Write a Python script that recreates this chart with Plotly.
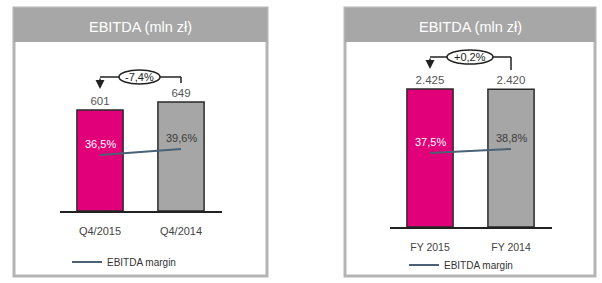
import plotly.graph_objects as go

# ---------------- data ----------------
cats_q = ["Q4/2015", "Q4/2014"]
ebitda_q = [601, 649]
margin_q = [36.5, 39.6]

cats_fy = ["FY 2015", "FY 2014"]
ebitda_fy = [2425, 2420]
margin_fy = [37.5, 38.8]

title_text = "EBITDA (mln zł)"
legend_name = "EBITDA margin"

# ---------------- styling ----------------
W, H = 602, 283
PINK = "#e2007a"
GREY = "#a6a6a6"
HEADER = "#a7a7a7"
FRAME = "#b4b4b4"
MARGIN_LINE = "#4a6176"
FONT = "Liberation Sans, Arial, sans-serif"


def fx(x):
    return x / W


def fy(y):
    return 1 - y / H


def fmt_val(v):
    return f"{v:,}".replace(",", ".")


def fmt_pct(v, sign=False):
    s = f"{v:+.1f}%" if sign else f"{v:.1f}%"
    return s.replace(".", ",")


fig = go.Figure()

panels = [
    dict(cats=cats_q, vals=ebitda_q, marg=margin_q, xa="x", ya="y", ym="y3", leg="legend",
         frame=(14, 267), xdom=(59.5, 221.5), base=211, bartop=110, m_px=(155, 149),
         tick_size=11, leg_x=67, leg_y=262, br_y=77, br_tip=89, br_r=83,
         ell=(119, 160), lbl_y=77),
    dict(cats=cats_fy, vals=ebitda_fy, marg=margin_fy, xa="x2", ya="y2", ym="y4", leg="legend2",
         frame=(345, 595), xdom=(389.5, 551.5), base=227, bartop=89, m_px=(153, 149),
         tick_size=10.5, leg_x=404, leg_y=265, br_y=57, br_tip=69, br_r=70,
         ell=(447, 493), lbl_y=57),
]

shapes = []
annotations = []
layout_axes = {}
TOP = 42
LBL_COLORS = ["#ffffff", "#3a3a3a"]

for i, p in enumerate(panels):
    # bars
    fig.add_trace(go.Bar(
        x=p["cats"], y=p["vals"], xaxis=p["xa"], yaxis=p["ya"],
        marker=dict(color=[PINK, GREY], line=dict(color="#2a2a2a", width=1.5)),
        text=[fmt_val(v) for v in p["vals"]], textposition="outside",
        textfont=dict(size=11.5, color="#555555", family=FONT),
        cliponaxis=False, showlegend=False, hoverinfo="skip",
    ))
    # margin line
    fig.add_trace(go.Scatter(
        x=p["cats"], y=p["marg"], xaxis=p["xa"], yaxis=p["ym"],
        mode="lines", name=legend_name, legend=p["leg"],
        line=dict(color=MARGIN_LINE, width=2),
        cliponaxis=False, hoverinfo="skip",
    ))
    for j, (c, m) in enumerate(zip(p["cats"], p["marg"])):
        annotations.append(dict(text=fmt_pct(m), xref=p["xa"], yref=p["ym"], x=c, y=m,
                                showarrow=False, xanchor="center", yanchor="middle",
                                yshift=11,
                                font=dict(size=11, color=LBL_COLORS[j], family=FONT)))

    # axes geometry
    base, bartop = p["base"], p["bartop"]
    per_px = max(p["vals"][0], 1) / (base - bartop)
    rng_max = per_px * (base - TOP)
    m0, m1 = p["marg"]
    y0px, y1px = p["m_px"]
    k = (m1 - m0) / (y0px - y1px)
    r0 = m0 - (base - y0px) * k
    r1 = r0 + (base - TOP) * k

    xkey = "xaxis" if i == 0 else "xaxis2"
    ykey = "yaxis" if i == 0 else "yaxis2"
    ymkey = "yaxis3" if i == 0 else "yaxis4"
    layout_axes[xkey] = dict(
        domain=[fx(p["xdom"][0]), fx(p["xdom"][1])], anchor=p["ya"],
        type="category", range=[-0.5, 1.5], showline=True, linecolor="#222222",
        linewidth=2, ticks="", showgrid=False, zeroline=False,
        tickfont=dict(size=p["tick_size"], color="#444444", family=FONT),
        ticklabelstandoff=9, fixedrange=True,
    )
    layout_axes[ykey] = dict(
        domain=[fy(base), fy(TOP)], anchor=p["xa"], range=[0, rng_max],
        visible=False, fixedrange=True,
    )
    layout_axes[ymkey] = dict(
        overlaying=p["ya"], anchor=p["xa"], range=[r0, r1], visible=False, fixedrange=True,
    )

    # frame + header
    fl, fr = p["frame"]
    shapes.append(dict(type="rect", xref="paper", yref="paper", layer="below",
                       x0=fx(fl), x1=fx(fr), y0=fy(276), y1=fy(8),
                       line=dict(color=FRAME, width=3), fillcolor="white"))
    shapes.append(dict(type="rect", xref="paper", yref="paper", layer="below",
                       x0=fx(fl), x1=fx(fr), y0=fy(42), y1=fy(8),
                       line=dict(width=0), fillcolor=HEADER))
    annotations.append(dict(text=title_text, xref="paper", yref="paper",
                            x=fx((fl + fr) / 2), y=fy(26.5), showarrow=False,
                            xanchor="center", yanchor="middle",
                            font=dict(size=14.5, color="white", family=FONT)))

    # change bracket
    xr = p["xa"]
    by = fy(p["br_y"])
    line_style = dict(color="#222222", width=1.5)
    shapes.append(dict(type="line", xref=xr, yref="paper", x0=0, x1=1, y0=by, y1=by,
                       line=line_style))
    shapes.append(dict(type="line", xref=xr, yref="paper", x0=1, x1=1, y0=by,
                       y1=fy(p["br_r"]), line=line_style))
    el, er = p["ell"]
    shapes.append(dict(type="circle", xref="paper", yref="paper",
                       x0=fx(el), x1=fx(er), y0=fy(p["br_y"] + 7), y1=fy(p["br_y"] - 7),
                       line=line_style, fillcolor="white"))
    change = (p["vals"][0] - p["vals"][1]) / p["vals"][1] * 100
    annotations.append(dict(text=fmt_pct(change, sign=change > 0), xref="paper", yref="paper",
                            x=fx((el + er) / 2), y=fy(p["lbl_y"]), showarrow=False,
                            xanchor="center", yanchor="middle",
                            font=dict(size=11, color="#222222", family=FONT)))
    annotations.append(dict(text="", xref=xr, yref="paper", x=0, y=fy(p["br_tip"]),
                            showarrow=True, ax=0, ay=-(p["br_tip"] - p["br_y"]),
                            axref="pixel", ayref="pixel",
                            arrowhead=2, arrowsize=1.2, arrowwidth=1.5,
                            arrowcolor="#222222", standoff=0))

    layout_axes[p["leg"]] = dict(
        x=fx(p["leg_x"]), y=fy(p["leg_y"]), xanchor="left", yanchor="middle",
        bgcolor="rgba(0,0,0,0)", font=dict(size=10, color="#333333", family=FONT),
        orientation="h",
    )

fig.update_layout(
    width=W, height=H, margin=dict(l=0, r=0, t=0, b=0),
    paper_bgcolor="white", plot_bgcolor="rgba(0,0,0,0)",
    bargap=0.43, showlegend=True,
    shapes=shapes, annotations=annotations,
    font=dict(family=FONT),
    **layout_axes,
)

fig.write_html("out.html")
